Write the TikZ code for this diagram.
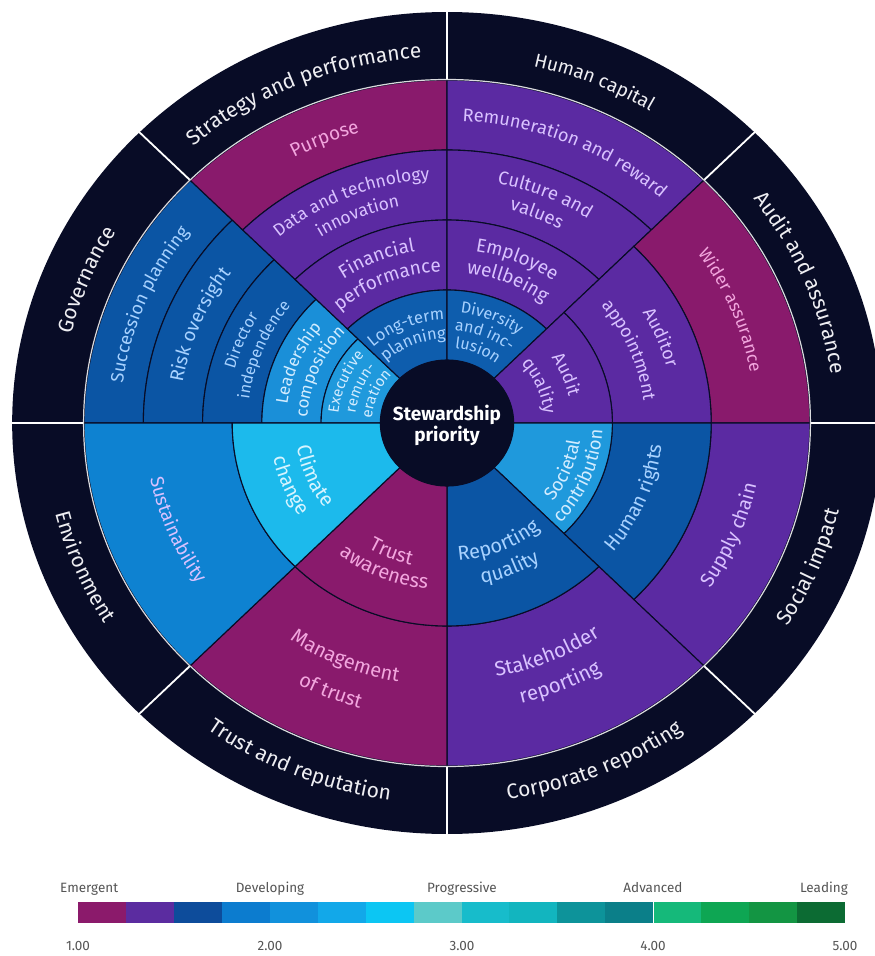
\documentclass[tikz,border=0pt]{standalone}
\usepackage{fontspec}
\setmainfont{Fira Sans}
\usetikzlibrary{decorations.text}

\definecolor{navy}{HTML}{080C26}
\definecolor{cmag}{HTML}{891A6C}
\definecolor{cpur}{HTML}{5B2AA2}
\definecolor{cdb}{HTML}{0B55A4}
\definecolor{cdbb}{HTML}{0E5DAD}
\definecolor{clb}{HTML}{1A8FD8}
\definecolor{clbb}{HTML}{1F99DC}
\definecolor{csus}{HTML}{0E82D1}
\definecolor{ccy}{HTML}{1CBAEC}
\definecolor{tmag}{HTML}{F2A6DE}
\definecolor{tpur}{HTML}{D9C2FF}
\definecolor{tdb}{HTML}{A8D2FF}
\definecolor{tlb}{HTML}{D2ECFF}
\definecolor{tcy}{HTML}{D6F4FF}
\definecolor{tout}{HTML}{EEEEF2}
\definecolor{legtext}{HTML}{555555}
\definecolor{lg1}{HTML}{8B1A6B}
\definecolor{lg2}{HTML}{5B2CA0}
\definecolor{lg3}{HTML}{0D4C9B}
\definecolor{lg4}{HTML}{0C7CCF}
\definecolor{lg5}{HTML}{1191DC}
\definecolor{lg6}{HTML}{12A8E9}
\definecolor{lg7}{HTML}{0CC6F3}
\definecolor{lg8}{HTML}{5CCAC9}
\definecolor{lg9}{HTML}{17BCCB}
\definecolor{lg10}{HTML}{12B5BF}
\definecolor{lg11}{HTML}{0D939A}
\definecolor{lg12}{HTML}{0B7F89}
\definecolor{lg13}{HTML}{15B97A}
\definecolor{lg14}{HTML}{0EA653}
\definecolor{lg15}{HTML}{139543}
\definecolor{lg16}{HTML}{0C6B33}

\newcommand\myfs[1]{\fontsize{#1}{#1}\selectfont}
% annular segment: a1 a2 r1 r2 colour
\newcommand\seg[5]{\filldraw[segline,fill=#5] (#1:#3) arc[start angle=#1,end angle=#2,radius=#3] -- (#2:#4) arc[start angle=#2,end angle=#1,radius=#4] -- cycle;}
% curved text, upper half (clockwise): mid radius span colour text
\newcommand\ctu[5]{\path[decorate,decoration={text along path,text align=center,text color=#4,text={#5}}] ({#1+#3}:#2) arc[start angle={#1+#3},end angle={#1-#3},radius=#2];}
% curved text, lower half (counter-clockwise)
\newcommand\ctl[5]{\path[decorate,decoration={text along path,text align=center,text color=#4,text={#5}}] ({#1-#3}:#2) arc[start angle={#1-#3},end angle={#1+#3},radius=#2];}

\tikzset{
  segline/.style={draw=navy,line width=1.1pt},
  sectorline/.style={draw=white,line width=1.8pt},
  ringline/.style={draw=white!85!navy,line width=1.2pt},
  legswatch/.style={minimum width=47.94pt,minimum height=21pt,inner sep=0pt,outer sep=0pt},
  legfont/.style={font=\myfs{13.5},text=legtext,inner sep=0pt}
}

\begin{document}
\begin{tikzpicture}[x=1pt,y=1pt]
\useasboundingbox (-447,-533) rectangle (428,423);
\fill[white] (-447,-533) rectangle (428,423);
\begin{scope}[x=1.058pt]
  \fill[navy] (0,0) circle[radius=411];
  % Governance
  \seg{135}{180}{287}{343}{cdb}
  \seg{135}{180}{231}{287}{cdb}
  \seg{135}{180}{175}{231}{cdb}
  \seg{135}{180}{119}{175}{clb}
  \seg{135}{180}{63}{119}{clbb}
  % Strategy and performance
  \seg{90}{135}{273}{343}{cmag}
  \seg{90}{135}{203}{273}{cpur}
  \seg{90}{135}{133}{203}{cpur}
  \seg{90}{135}{63}{133}{cdbb}
  % Human capital
  \seg{45}{90}{273}{343}{cpur}
  \seg{45}{90}{203}{273}{cpur}
  \seg{45}{90}{133}{203}{cpur}
  \seg{45}{90}{63}{133}{cdbb}
  % Audit and assurance
  \seg{0}{45}{249.7}{343}{cmag}
  \seg{0}{45}{156.3}{249.7}{cpur}
  \seg{0}{45}{63}{156.3}{cpur}
  % Social impact
  \seg{-45}{0}{249.7}{343}{cpur}
  \seg{-45}{0}{156.3}{249.7}{cdb}
  \seg{-45}{0}{63}{156.3}{clbb}
  % Corporate reporting
  \seg{-90}{-45}{203}{343}{cpur}
  \seg{-90}{-45}{63}{203}{cdb}
  % Trust and reputation
  \seg{-135}{-90}{203}{343}{cmag}
  \seg{-135}{-90}{63}{203}{cmag}
  % Environment
  \seg{-180}{-135}{203}{343}{csus}
  \seg{-180}{-135}{63}{203}{ccy}
  % outer ring lines
  \draw[ringline] (0,0) circle[radius=343.5];
  \foreach \a in {0,45,...,315} \draw[sectorline] (\a:344) -- (\a:412);
  \fill[navy] (0,0) circle[radius=63];
  \node[font=\bfseries\fontsize{19}{21}\selectfont,text=white,align=center] (centre) at (0,-2) {Stewardship\\priority};

  % outer ring labels
  \ctu{157.5}{366}{30}{tout}{|\myfs{21}|Governance}
  \ctu{112.5}{366}{30}{tout}{|\myfs{21}|Strategy and performance}
  \ctu{67.5}{366}{30}{tout}{|\myfs{19}|Human capital}
  \ctu{22.5}{366}{30}{tout}{|\myfs{21}|Audit and assurance}
  \ctl{-22.5}{381}{30}{tout}{|\myfs{21}|Social impact}
  \ctl{-67.5}{381}{30}{tout}{|\myfs{21}|Corporate reporting}
  \ctl{-112.5}{381}{30}{tout}{|\myfs{21}|Trust and reputation}
  \ctl{-157.5}{381}{30}{tout}{|\myfs{21}|Environment}

  % Governance
  \ctu{157.5}{309}{30}{tdb}{|\myfs{18}|Succession planning}
  \ctu{157.5}{253}{30}{tdb}{|\myfs{19}|Risk oversight}
  \ctu{157.5}{207.5}{35}{tdb}{|\myfs{16}|Director}
  \ctu{157.5}{188.5}{35}{tdb}{|\myfs{16}|independence}
  \ctu{157.5}{152}{40}{tlb}{|\myfs{17}|Leadership}
  \ctu{157.5}{132}{40}{tlb}{|\myfs{17}|composition}
  \ctu{157.5}{103}{45}{tlb}{|\myfs{15}|Executive}
  \ctu{157.5}{87}{45}{tlb}{|\myfs{15}|remun-}
  \ctu{157.5}{71}{45}{tlb}{|\myfs{15}|eration}

  % Strategy and performance
  \ctu{112.5}{302}{30}{tmag}{|\myfs{19}|Purpose}
  \ctu{112.5}{244}{35}{tpur}{|\myfs{17.5}|Data and technology}
  \ctu{112.5}{221}{35}{tpur}{|\myfs{17.5}|innovation}
  \ctu{112.5}{174}{40}{tpur}{|\myfs{19}|Financial}
  \ctu{112.5}{151}{40}{tpur}{|\myfs{19}|performance}
  \ctu{112.5}{103}{45}{tdb}{|\myfs{16.5}|Long-term}
  \ctu{112.5}{84}{45}{tdb}{|\myfs{16.5}|planning}

  % Human capital
  \ctu{67.5}{302}{30}{tpur}{|\myfs{18.2}|Remuneration and reward}
  \ctu{67.5}{244}{35}{tpur}{|\myfs{18.5}|Culture and}
  \ctu{67.5}{221}{35}{tpur}{|\myfs{18.5}|values}
  \ctu{67.5}{174}{40}{tpur}{|\myfs{19}|Employee}
  \ctu{67.5}{151}{40}{tpur}{|\myfs{19}|wellbeing}
  \ctu{67.5}{111}{45}{tdb}{|\myfs{16}|Diversity}
  \ctu{67.5}{93}{45}{tdb}{|\myfs{16}|and inc-}
  \ctu{67.5}{75}{45}{tdb}{|\myfs{16}|lusion}

  % Audit and assurance
  \ctu{22.5}{291}{30}{tmag}{|\myfs{17.5}|Wider assurance}
  \ctu{22.5}{215}{35}{tpur}{|\myfs{18}|Auditor}
  \ctu{22.5}{187}{35}{tpur}{|\myfs{18}|appointment}
  \ctu{22.5}{118}{45}{tpur}{|\myfs{18}|Audit}
  \ctu{22.5}{92}{45}{tpur}{|\myfs{18}|quality}

  % Social impact
  \ctl{-22.5}{299}{30}{tpur}{|\myfs{19.5}|Supply chain}
  \ctl{-22.5}{204}{35}{tdb}{|\myfs{19.5}|Human rights}
  \ctl{-22.5}{127}{45}{tlb}{|\myfs{18.5}|Societal}
  \ctl{-22.5}{147}{45}{tlb}{|\myfs{18.5}|contribution}

  % Corporate reporting
  \ctl{-67.5}{258}{30}{tpur}{|\myfs{20.5}|Stakeholder}
  \ctl{-67.5}{289}{30}{tpur}{|\myfs{20.5}|reporting}
  \ctl{-67.5}{138}{40}{tdb}{|\myfs{20}|Reporting}
  \ctl{-67.5}{164}{40}{tdb}{|\myfs{20}|quality}

  % Trust and reputation
  \ctl{-112.5}{263}{30}{tmag}{|\myfs{20}|Management}
  \ctl{-112.5}{297}{30}{tmag}{|\myfs{20}|of trust}
  \ctl{-112.5}{146}{40}{tmag}{|\myfs{20}|Trust}
  \ctl{-112.5}{167}{40}{tmag}{|\myfs{20}|awareness}

  % Environment
  \ctl{-157.5}{286}{30}{tpur}{|\myfs{18.8}|Sustainability}
  \ctl{-157.5}{144}{40}{tcy}{|\myfs{20}|Climate}
  \ctl{-157.5}{168}{40}{tcy}{|\myfs{20}|change}
\end{scope}

% legend
\foreach \i in {1,...,16}{
  \node[legswatch,fill=lg\i,anchor=south west] (sw\i) at ({-369+(\i-1)*47.94},-500) {};
}
\draw[white,line width=1.5pt] (sw13.south west) -- (sw13.north west);
\node[legfont,anchor=base west] (lemergent) at (-387,-469) {Emergent};
\node[legfont,anchor=base] (ldeveloping) at (-177,-469) {Developing};
\node[legfont,anchor=base] (lprogressive) at (15,-469) {Progressive};
\node[legfont,anchor=base] (ladvanced) at (206,-469) {Advanced};
\node[legfont,anchor=base east] (lleading) at (401,-469) {Leading};
\node[legfont,anchor=base] (n1) at (-369,-527) {1.00};
\node[legfont,anchor=base] (n2) at (-177,-527) {2.00};
\node[legfont,anchor=base] (n3) at (15,-527) {3.00};
\node[legfont,anchor=base] (n4) at (206,-527) {4.00};
\node[legfont,anchor=base] (n5) at (398,-527) {5.00};
\end{tikzpicture}
\end{document}
